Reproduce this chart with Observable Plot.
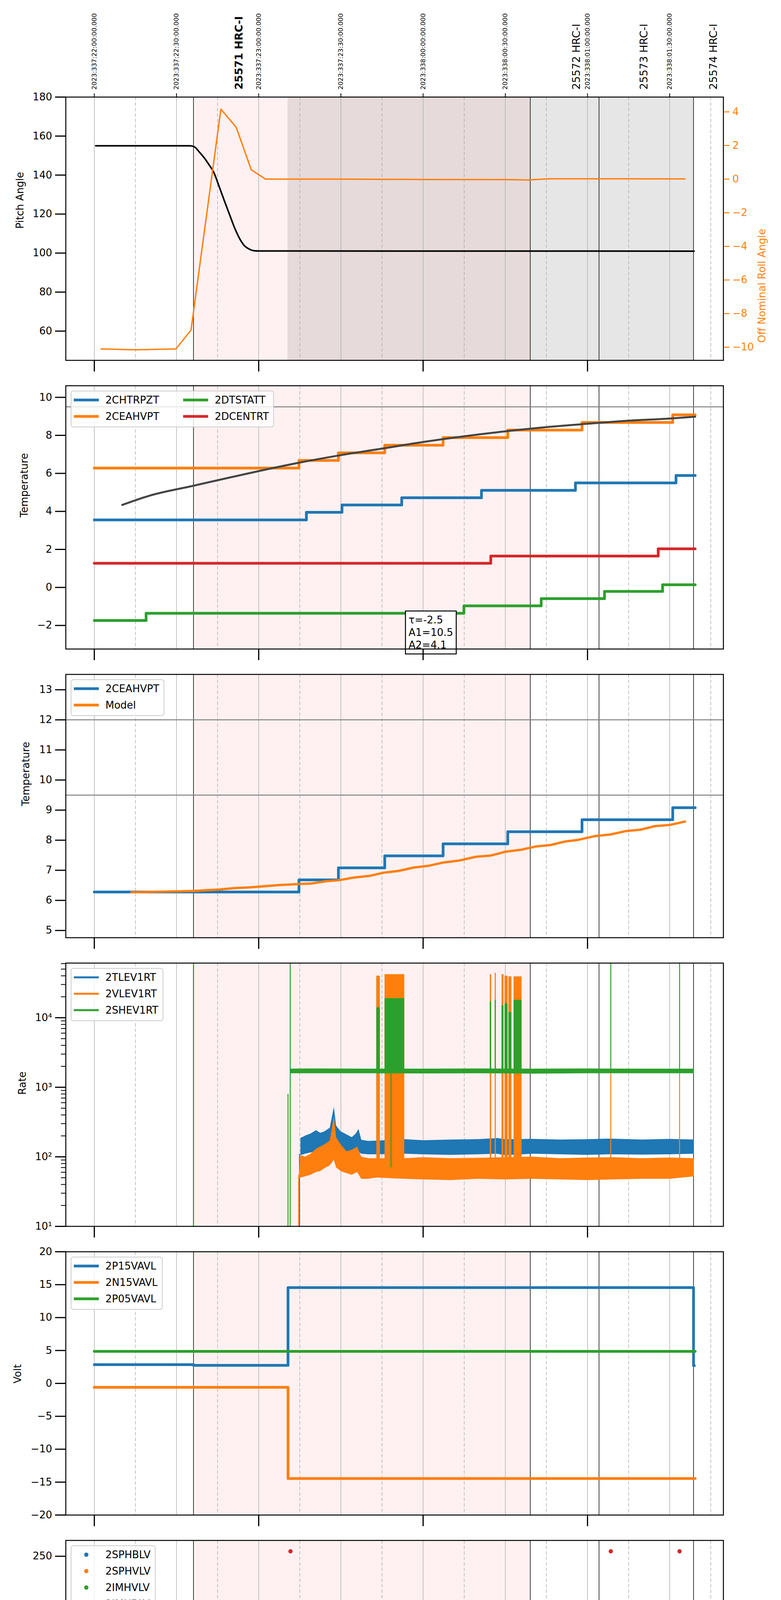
<!DOCTYPE html>
<html>
<head>
<meta charset="utf-8">
<script src="https://cdn.jsdelivr.net/npm/d3@7"></script>
<script src="https://cdn.jsdelivr.net/npm/@observablehq/plot@0.6"></script>
<style>
  body { margin: 0; background: white; }
  #chart { position: relative; width: 2000px; font-family: "DejaVu Sans"; }
  .panel { position: relative; width: 2000px; }
  .panel svg { display: block; }
  .overlay { position: absolute; left: 0; top: 0; }
</style>
</head>
<body>
<div id="chart"></div>
<script>
// ---------------- time axis (minutes after 17:00 local, 2023-12-03) ----------------
const X_DOMAIN = [-10.4, 229.6];
const hourTicks = [0, 60, 120, 180];
const hourLabels = ["17h", "18h", "19h", "20h"];
const minorTicks = [15, 30, 45, 75, 90, 105, 135, 150, 165, 195, 210, 225];
const minorLabels = ["15", "30", "45", "15", "30", "45", "15", "30", "45", "15", "30", "45"];
const solidGrid = [0, 30, 60, 90, 120, 150, 180, 210];
const dashedGrid = [15, 45, 75, 105, 135, 165, 195, 225];
const topTickTimes = [0, 30, 60, 90, 120, 150, 180, 210];
const topTickLabels = ["2023:337:22:00:00.000", "2023:337:22:30:00.000", "2023:337:23:00:00.000", "2023:337:23:30:00.000",
  "2023:338:00:00:00.000", "2023:338:00:30:00.000", "2023:338:01:00:00.000", "2023:338:01:30:00.000"];
const obsidStarts = [36.2, 159.1, 184.2, 218.7];
const obsidNames = ["25571 HRC-I", "25572 HRC-I", "25573 HRC-I", "25574 HRC-I"];
const obsidLabelTimes = [52.9, 176.0, 200.7, 226.0];
const obsSpan = [36.2, 159.1];
const hvOnSpan = [70.6, 218.7];
const xLabel = "2023-12-03 (337)";

// ---------------- panel 1: pitch / roll ----------------
const pitch = [[0.5,155],[35,155],[36.5,154.5],[38.4,151.7],[40.2,148.7],[42.0,145.0],[43.5,141.7],[45.6,134.0],[47.5,126.7],
  [49.3,120.0],[51.1,113.3],[52.9,107.8],[54.7,103.9],[56.5,102.1],[58.4,101.2],[60.0,101.1],[218.9,101.0]];
const roll = [[2.5,-10.1],[14.9,-10.15],[29.8,-10.1],[35.3,-8.98],[46.2,4.16],[51.8,3.08],[57.3,0.55],[62.5,0.0],[90,0.0],
  [120,-0.02],[150,-0.03],[158.4,-0.05],[165.6,0.02],[194.7,0.02],[215.6,0.01]];

// ---------------- panel 2: temperatures ----------------
const t2CHTRPZT = [[0,3.55],[77.4,3.95],[90.4,4.34],[112.2,4.72],[141.3,5.11],[175.6,5.50],[212.3,5.89],[219.3,5.89]];
const t2CEAHVPT = [[0,6.28],[74.7,6.68],[89.1,7.08],[106.0,7.48],[127.3,7.88],[150.9,8.28],[178.0,8.68],[211.1,9.08],[219.3,9.08]];
const t2DTSTATT = [[0,-1.74],[18.9,-1.36],[134.9,-0.97],[163.1,-0.59],[186.2,-0.21],[207.4,0.14],[219.3,0.14]];
const t2DCENTRT = [[0,1.27],[144.7,1.65],[205.8,2.03],[219.3,2.03]];
const fitCurve = [[10.2,4.34],[20.2,4.83],[36.2,5.35],[47.5,5.72],[60,6.12],[74.7,6.56],[90,6.96],[104.9,7.30],[120,7.65],
  [134.9,7.95],[150,8.21],[164.9,8.43],[180,8.61],[194.7,8.77],[209.4,8.88],[219.3,8.98]];
const tempLimit2 = [9.5];
const annoPos = [114.7, -1.43];
const annoLines = ["τ=-2.5", "A1=10.5", "A2=4.1"];

// ---------------- panel 3: model ----------------
const modelCurve = [[13.5,6.27],[36.2,6.31],[41.1,6.34],[45.6,6.36],[51.1,6.41],[56.5,6.43],[62.0,6.47],[67.5,6.51],[73.8,6.54],
  [79.3,6.56],[84.7,6.64],[89.3,6.67],[94.7,6.76],[100.2,6.81],[105.6,6.92],[111.1,6.98],[116.5,7.09],[122.0,7.15],[127.5,7.26],
  [132.9,7.32],[139.3,7.45],[144.7,7.49],[150.2,7.62],[155.6,7.68],[161.1,7.79],[166.5,7.84],[172.0,7.96],[176.5,8.01],[182.9,8.14],
  [188.4,8.19],[193.8,8.30],[199.3,8.35],[204.7,8.47],[210.2,8.51],[215.6,8.62]];
const tempLimits3 = [9.5, 12];

// ---------------- panel 4: rates (time, low, high envelopes) ----------------
const rateTLEVband = [[75.3,105,185],[77,110,200],[79,115,215],[81,118,240],[82.5,125,220],[84,120,230],[86,125,260],[87.5,140,520],
  [88.3,130,280],[90,120,230],[92,118,210],[94,115,190],[95.5,115,215],[96.5,118,250],[97.5,110,175],[100,108,168],[103,108,170],
  [113.3,110,178],[120,108,172],[130,106,176],[140,108,178],[147,110,185],[150,105,178],[160,110,180],[170,108,176],[180,106,178],
  [188,108,182],[200,107,176],[210,108,180],[218.9,110,176]];
const rateVLEVband = [[74.8,48,60],[75.3,50,105],[77,52,100],[79,55,110],[81,60,130],[82.5,62,140],[84,68,150],[86,75,170],
  [87.5,90,380],[88.3,70,190],[90,62,150],[92,58,120],[94,55,125],[96,60,140],[97.5,48,100],[100,48,95],[103,50,95],[113.3,48,95],
  [120,47,98],[130,46,95],[140,48,96],[150,47,98],[160,48,100],[170,47,95],[180,46,97],[190,47,98],[200,48,95],[210,48,97],[218.9,52,95]];
const rateSHEVband = [[71.5,1580,1840],[80,1580,1850],[100,1580,1840],[120,1570,1840],[140,1580,1850],[160,1560,1840],
  [180,1580,1850],[200,1580,1840],[218.9,1580,1840]];
const rateTLEVspikes = [[74.9,1,110],[188.5,75,110],[213.6,85,110]];
const rateTLEVblocks = [[103.0,103.5,160,38000],[149.8,150.3,165,38000],[151.6,152.1,165,38000],[155.4,155.9,165,38000]];
const rateVLEVspikes = [[74.6,1,55],[188.5,60,1700],[213.6,60,1700]];
const rateVLEVblocks = [[103.0,104.3,90,40000],[106.0,113.2,70,42000],[144.4,144.9,90,42000],[146.2,146.6,90,44000],
  [148.7,149.4,90,42000],[149.8,150.9,90,40000],[151.2,152.3,90,39000],[153.1,156.0,90,39000]];
const rateSHEVspikes = [[36.2,1,100000],[70.7,1,800],[71.5,1,100000],[108.3,70,1700],[188.5,1700,100000],[213.6,1700,100000]];
const rateSHEVblocks = [[103.0,104.3,1700,14000],[106.0,113.2,1700,19000],[144.4,144.9,1700,17000],[146.2,146.6,1700,18000],
  [148.7,149.4,1700,15000],[149.8,150.9,1700,16000],[151.2,152.3,1700,12000],[153.1,156.0,1700,18000]];
const rateMajor = [10, 100, 1000, 10000];
const rateMajorLabels = ["10¹", "10²", "10³", "10⁴"];
const rateMinor = [20,30,40,50,60,70,80,90,200,300,400,500,600,700,800,900,2000,3000,4000,5000,6000,7000,8000,9000,20000,30000,40000,50000,60000];

// ---------------- panel 5: voltages ----------------
const v2P15VAVL = [[0,2.85],[36.2,2.75],[70.7,14.55],[218.7,2.7],[219.0,2.7]];
const v2N15VAVL = [[0,-0.6],[70.7,-14.45],[219.3,-14.45]];
const v2P05VAVL = [[0,4.86],[219.3,4.86]];

// ---------------- panel 6: HV monitor (scatter) ----------------
const hv2SPHBLV = [];
const hv2SPHVLV = [];
const hv2IMHVLVpts = [[72.2,99.7],[72.5,97],[72.9,95],[73.3,92],[73.6,89.3],[74.0,87],[74.4,85.9],[74.9,82.6],[75.3,80.5],[75.6,78.8],
  [107.6,126.7],[149.3,126.7],[155.3,126.7]];
const hv2IMHVLVlevel = [[75.6,219.3,78.8]];
const hv2IMHBLVpts = [[71.6,255],[72.0,126.7],[72.0,123.5],[72.0,118.7],[72.3,106.4],[72.4,104.5],[73.0,101.6],[73.6,98],[74.0,96.9],
  [74.3,93.1],[74.6,91],[75.1,89.3],[75.6,85.9],[107.8,79],[108.7,79],[149.3,79],[155.3,79],[188.5,255],[213.6,255]];
const hv2IMHBLVlevel = [[75.6,219.3,85.9]];

// ---------------- panel 7: detector temperatures ----------------
const d2SPINATM = [[71.5,3.70],[131.5,4.15],[208.0,4.61],[219.3,4.61]];
const d2SPINATMblocks = [[102.9,103.8,-1,3.7],[105.9,113.3,-1,3.7],[144.4,145.2,-1,4.15],[146.0,146.6,-1,4.15],[148.9,151.1,-1,4.15],[153.4,156.0,-1,4.15]];
const d2SPHVATM = [[70.7,15.0],[70.9,15.57],[134.4,16.11],[158.4,16.39],[182.5,16.69],[209.6,16.97],[219.3,16.97]];
const d2SPHVATMblocks = [[102.9,103.8,10.54,15.57],[105.9,113.3,10.54,15.57],[144.4,145.2,11.07,16.11],[146.0,146.6,11.07,16.11],
  [148.9,149.6,11.07,16.11],[150.0,150.6,11.07,16.11],[153.4,156.0,11.07,16.11]];
const d2SPHVATMspikes = [[108.4,3.7,10.54]];
const d2IMINATM = [[71.5,1.93],[113.3,2.38],[175.1,2.80],[219.3,2.80]];
const d2IMINATMblocks = [[102.9,103.8,1.93,3.79],[105.9,113.3,1.93,3.79],[144.4,145.2,2.38,4.2],[146.0,146.6,2.38,4.2],[148.9,151.1,2.38,4.2],[153.4,156.0,2.38,4.2]];
const d2IMHVATM = [[71.0,-1],[71.1,14.97],[81.5,15.26],[88.4,15.57],[95.1,15.84],[102.4,16.11],[110.5,16.39],[119.8,16.66],[130.5,16.97],
  [143.4,17.25],[157.8,17.54],[174.7,17.82],[188.3,-1],[188.8,17.82],[195.3,18.12],[213.4,-1],[213.9,18.12],[219.3,18.12]];
const d2IMHVATMblocks = [[102.6,103.2,15.5,16.11],[105.6,110.3,15.5,16.11],[144.4,145.2,16.11,17.25],[146.0,146.6,16.11,17.25],
  [148.9,149.6,16.11,17.25],[150.4,151.0,16.11,17.25],[154.5,156.0,16.11,17.25]];
const d2IMHVATMspikes = [[108.4,-1,16.11]];

// ---------------- panel 8: FEA temperatures ----------------
const f2FHTRMZT = [[0,-3.28],[73.8,-3.68],[76.3,-3.28],[89.1,-4.1],[89.6,-3.28],[90.7,-2.87],[97.2,-2.5],[97.6,-2.87],[99.6,-2.5],
  [100.0,-2.87],[101.6,-2.51],[113.3,-2.13],[122.0,-1.76],[132.9,-1.37],[142.2,1.3],[142.6,-1.0],[156.0,-0.63],[167.3,-0.23],
  [170.5,0.55],[171.0,-0.23],[180.2,0.13],[192.5,0.51],[206.2,0.89],[219.3,0.89]];
const f2FRADPYT = [[0,-4.81],[36.5,-4.41],[42.7,-4.81],[55.3,-5.2],[64.7,-5.6],[89.3,-5.2],[101.1,-4.81],[112.9,-4.44],[124.7,-4.05],
  [136.9,-3.66],[149.3,-3.28],[162.0,-2.89],[176.0,-2.52],[189.8,-2.13],[204.7,-1.76],[219.3,-1.76]];
const f2FEPRATM = [[72.6,-2.65],[72.9,-2.22],[75.8,-1.83],[78.7,-1.42],[82.4,-1.02],[87.1,-0.63],[94.4,-0.22],[102.4,0.24],[113.3,0.65],
  [121.3,1.06],[131.3,1.51],[143.6,1.96],[156.0,2.39],[169.6,2.81],[183.8,3.27],[199.3,3.73],[215.1,4.18],[219.3,4.18]];
const f2FEPRATMblocks = [[102.9,103.8,-4.68,0.24],[105.9,113.3,-4.68,0.24],[144.4,145.2,-4.68,1.96],[146.0,146.6,-4.68,1.96],
  [148.9,149.6,-4.68,1.96],[150.0,150.6,-4.68,1.96],[150.9,151.4,-4.68,1.96],[154.9,155.6,-4.68,1.96]];
const f2FE00ATM = [[70.9,-7],[71.1,-1.11],[80.2,-0.78],[87.3,-1.1],[87.6,-0.43],[94.2,-0.13],[100.9,0.17],[108.4,-7],[108.9,0.48],
  [114.7,0.82],[122.0,1.11],[130.2,1.44],[138.2,1.77],[147.4,2.05],[156.0,2.35],[161.0,3.55],[161.4,2.35],[165.6,2.66],[172.4,2.3],
  [172.8,2.66],[174.7,2.96],[185.1,3.27],[188.3,-7],[188.8,3.27],[194.7,3.54],[200.0,4.2],[200.4,3.54],[203.6,4.2],[204.0,3.54],
  [206.6,3.85],[213.4,-7],[213.9,3.85],[215.1,4.18],[215.6,4.14],[219.3,4.14]];
const f2FE00ATMblocks = [[102.9,103.5,0.17,6],[105.6,113.3,0.45,6],[144.4,145.0,1.77,6],[146.0,146.6,1.77,6],[148.3,151.5,2.0,6],[152.8,156.0,2.0,6]];

// ---------------- styling ----------------
const C = {blue: "#1f77b4", orange: "#ff7f0e", green: "#2ca02c", red: "#d62728"};
const FONT = "DejaVu Sans";
const minus = d => (d < 0 ? "\u2212" + Math.abs(d) : String(d));

const L = (data, stroke, w = 7, curve = "step-after") =>
  Plot.line(data, {x: d => d[0], y: d => d[1], stroke, strokeWidth: w, curve, clip: true});
const B = (data, fill) =>
  Plot.rect(data, {x1: d => d[0], x2: d => d[1], y1: d => d[2], y2: d => d[3], fill, clip: true});
const S = (data, stroke, w) =>
  Plot.ruleX(data, {x: d => d[0], y1: d => d[1], y2: d => d[2], stroke, strokeWidth: w, clip: true});

function background(gray) {
  const m = [Plot.rect([obsSpan], {x1: d => d[0], x2: d => d[1], fill: "#ff0000", fillOpacity: 0.055})];
  if (gray) m.push(Plot.rect([hvOnSpan], {x1: d => d[0], x2: d => d[1], fill: "#808080", fillOpacity: 0.2}));
  m.push(Plot.ruleX(solidGrid, {x: d => d, stroke: "#b0b0b0", strokeWidth: 1.5}));
  m.push(Plot.ruleX(dashedGrid, {x: d => d, stroke: "#b0b0b0", strokeWidth: 1.5, strokeDasharray: "9,5"}));
  m.push(Plot.ruleX(obsidStarts, {x: d => d, stroke: "black", strokeWidth: 1.5}));
  return m;
}

function panel(o) {
  const top = o.top ?? 10, height = o.height ?? 739, bottom = o.bottom ?? 55;
  const marks = [
    ...background(o.gray),
    ...o.marks,
    Plot.frame({stroke: "black", strokeWidth: 2.5}),
    Plot.axisY({ticks: o.yTicks, tickFormat: o.yFmt || minus, tickSize: 27, tickPadding: 8, strokeWidth: 3, label: null, fontSize: 26}),
    Plot.axisX({ticks: hourTicks, tickSize: 29, strokeWidth: 3, tickPadding: 7, fontSize: 27, label: null,
      tickFormat: o.last ? (d => hourLabels[hourTicks.indexOf(d)]) : (() => "")}),
    Plot.text([o.yLabel], {frameAnchor: "left", dx: o.labelDx, rotate: -90, text: d => d, fontSize: 26, fill: "black"})
  ];
  if (o.minorY) marks.push(Plot.axisY({ticks: o.minorY, tickFormat: () => "", tickSize: 12, strokeWidth: 2, label: null}));
  if (o.last) {
    marks.push(Plot.axisX({ticks: minorTicks, tickSize: 9, strokeWidth: 2, tickPadding: 1, fontSize: 16, label: null,
      tickFormat: d => minorLabels[minorTicks.indexOf(d)]}));
    marks.push(Plot.text([xLabel], {frameAnchor: "bottom", dy: 86, fontSize: 27, text: d => d}));
  }
  if (o.extra) marks.push(...o.extra);
  return Plot.plot({
    width: 2000, height, marginTop: top, marginBottom: bottom, marginLeft: 168, marginRight: 148,
    x: {type: "linear", domain: X_DOMAIN},
    y: o.y,
    style: {fontFamily: FONT, fontSize: "26px", background: "transparent", overflow: "visible", color: "black"},
    marks
  });
}

function addLegend(svg, items, {cols = 1, dots = false, lw = 7, frameTop = 10}) {
  const g = d3.select(svg).append("g").attr("font-family", FONT).attr("font-size", 26).attr("text-anchor", "start");
  const rows = Math.ceil(items.length / cols);
  const rect = g.append("rect").attr("x", 182).attr("y", frameTop + 14).attr("height", 42 * rows + 8)
    .attr("rx", 6).attr("fill", "white").attr("fill-opacity", 0.8).attr("stroke", "#cccccc").attr("stroke-width", 2);
  let maxRight = 0;
  items.forEach((it, i) => {
    const col = Math.floor(i / rows), row = i % rows;
    const cy = frameTop + 37 + 42 * row;
    const x0 = 189 + col * 280;
    if (dots) g.append("circle").attr("cx", x0 + 32).attr("cy", cy).attr("r", 5.5).attr("fill", it.color);
    else g.append("line").attr("x1", x0).attr("x2", x0 + 64).attr("y1", cy).attr("y2", cy)
      .attr("stroke", it.color).attr("stroke-width", lw);
    const t = g.append("text").attr("x", x0 + 81).attr("y", cy).attr("dy", "0.35em")
      .attr("text-anchor", "start").attr("fill", "black").text(it.label);
    maxRight = Math.max(maxRight, x0 + 81 + t.node().getComputedTextLength());
  });
  rect.attr("width", maxRight + 12 - 182);
}

const chart = document.getElementById("chart");
function mount(svg) {
  const div = document.createElement("div");
  div.className = "panel";
  div.appendChild(svg);
  chart.appendChild(div);
  return div;
}

// ---- Panel 1 ----
const p1 = panel({
  top: 248, height: 977, bottom: 55, gray: true,
  y: {domain: [45, 180]}, yTicks: [60, 80, 100, 120, 140, 160, 180],
  yLabel: "Pitch Angle", labelDx: -117,
  marks: [L(pitch, "black", 4, "monotone-x")],
  extra: [
    Plot.axisX({anchor: "top", ticks: topTickTimes, tickSize: 10, strokeWidth: 2, tickFormat: () => "", label: null}),
    Plot.text(topTickTimes, {x: d => d, frameAnchor: "top", dy: -19, rotate: -90, textAnchor: "start", lineAnchor: "middle",
      fontSize: 16.5, text: (d, i) => topTickLabels[i]}),
    Plot.text([0], {x: i => obsidLabelTimes[i], frameAnchor: "top", dy: -19, rotate: -90, textAnchor: "start",
      lineAnchor: "middle", fontSize: 27, fontWeight: "bold", text: i => obsidNames[i]}),
    Plot.text([1, 2, 3], {x: i => obsidLabelTimes[i], frameAnchor: "top", dy: -19, rotate: -90, textAnchor: "start",
      lineAnchor: "middle", fontSize: 27, text: i => obsidNames[i]})
  ]
});
const div1 = mount(p1);
const p1roll = Plot.plot({
  width: 2000, height: 977, marginTop: 248, marginBottom: 55, marginLeft: 168, marginRight: 148,
  x: {type: "linear", domain: X_DOMAIN, axis: null},
  y: {domain: [-10.78, 4.88]},
  style: {fontFamily: FONT, fontSize: "26px", background: "transparent", overflow: "visible"},
  marks: [
    Plot.line(roll, {x: d => d[0], y: d => d[1], stroke: C.orange, strokeWidth: 3.5, clip: true}),
    Plot.axisY({anchor: "right", ticks: [-10, -8, -6, -4, -2, 0, 2, 4], tickFormat: minus, tickSize: 15, tickPadding: 8,
      strokeWidth: 2.5, color: C.orange, label: null, fontSize: 26}),
    Plot.text(["Off Nominal Roll Angle"], {frameAnchor: "right", dx: 99, rotate: -90, text: d => d, fontSize: 26, fill: C.orange})
  ]
});
p1roll.classList.add("overlay");
div1.appendChild(p1roll);

// ---- Panel 2 ----
const p2 = panel({
  y: {domain: [-3.24, 10.61]}, yTicks: [-2, 0, 2, 4, 6, 8, 10],
  yLabel: "Temperature", labelDx: -106,
  marks: [
    Plot.ruleY(tempLimit2, {y: d => d, stroke: "#808080", strokeWidth: 2.5}),
    L(t2CHTRPZT, C.blue), L(t2CEAHVPT, C.orange), L(t2DTSTATT, C.green), L(t2DCENTRT, C.red),
    L(fitCurve, "#444444", 5, "monotone-x"),
    Plot.text([annoLines.join("\n")], {x: () => annoPos[0], y: () => annoPos[1], text: d => d, textAnchor: "start",
      lineAnchor: "top", lineHeight: 1.23, fontSize: 26, className: "anno"})
  ]
});
mount(p2);

// ---- Panel 3 ----
const p3 = panel({
  y: {domain: [4.76, 13.51]}, yTicks: [5, 6, 7, 8, 9, 10, 11, 12, 13],
  yLabel: "Temperature", labelDx: -102,
  marks: [
    Plot.ruleY(tempLimits3, {y: d => d, stroke: "#808080", strokeWidth: 2.5}),
    L(t2CEAHVPT, C.blue), L(modelCurve, C.orange, 6, "linear")
  ]
});
mount(p3);

// ---- Panel 4 ----
const band = (data, fill) => Plot.areaY(data, {x: d => d[0], y1: d => d[1], y2: d => d[2], fill, clip: true});
const p4 = panel({
  y: {type: "log", domain: [10, 61000]}, yTicks: rateMajor, yFmt: d => rateMajorLabels[rateMajor.indexOf(d)],
  minorY: rateMinor, yLabel: "Rate", labelDx: -111,
  marks: [
    band(rateTLEVband, C.blue), S(rateTLEVspikes, C.blue, 2.5), B(rateTLEVblocks, C.blue),
    band(rateVLEVband, C.orange), S(rateVLEVspikes, C.orange, 2.5), B(rateVLEVblocks, C.orange),
    band(rateSHEVband, C.green), S(rateSHEVspikes, C.green, 2.5), B(rateSHEVblocks, C.green)
  ]
});
mount(p4);

// ---- Panel 5 ----
const p5 = panel({
  y: {domain: [-20, 20]}, yTicks: [-20, -15, -10, -5, 0, 5, 10, 15, 20],
  yLabel: "Volt", labelDx: -123,
  marks: [L(v2P15VAVL, C.blue), L(v2N15VAVL, C.orange), L(v2P05VAVL, C.green)]
});
mount(p5);

// ---- Panel 6 ----
const lvl = (data, stroke) => Plot.ruleY(data, {y: d => d[2], x1: d => d[0], x2: d => d[1], stroke, strokeWidth: 11, strokeLinecap: "round"});
const pts = (data, fill) => Plot.dot(data, {x: d => d[0], y: d => d[1], r: 5.5, fill, stroke: "none", clip: true});
const p6 = panel({
  y: {domain: [0, 266]}, yTicks: [0, 50, 100, 150, 200, 250],
  yLabel: "HV Monitor", labelDx: -120,
  marks: [
    pts(hv2SPHBLV, C.blue), pts(hv2SPHVLV, C.orange),
    lvl(hv2IMHVLVlevel, C.green), pts(hv2IMHVLVpts, C.green),
    lvl(hv2IMHBLVlevel, C.red), pts(hv2IMHBLVpts, C.red)
  ]
});
mount(p6);

// ---- Panel 7 ----
const p7 = panel({
  y: {domain: [0.42, 19.34]}, yTicks: [2.5, 5, 7.5, 10, 12.5, 15, 17.5], yFmt: d => d.toFixed(1),
  yLabel: "Detector Temp", labelDx: -126,
  marks: [
    L(d2SPINATM, C.blue), B(d2SPINATMblocks, C.blue),
    L(d2SPHVATM, C.orange), B(d2SPHVATMblocks, C.orange), S(d2SPHVATMspikes, C.orange, 3),
    L(d2IMINATM, C.green), B(d2IMINATMblocks, C.green),
    L(d2IMHVATM, C.red), B(d2IMHVATMblocks, C.red), S(d2IMHVATMspikes, C.red, 3)
  ]
});
mount(p7);

// ---- Panel 8 ----
const p8 = panel({
  height: 789, bottom: 105, last: true,
  y: {domain: [-6.31, 4.44]}, yTicks: [-6, -4, -2, 0, 2, 4],
  yLabel: "FEA Temp", labelDx: -107,
  marks: [
    L(f2FHTRMZT, C.blue), L(f2FRADPYT, C.orange),
    L(f2FEPRATM, C.green), B(f2FEPRATMblocks, C.green),
    L(f2FE00ATM, C.red), B(f2FE00ATMblocks, C.red)
  ]
});
mount(p8);

// ---- legends (after attach so text can be measured) ----
addLegend(p2, [{label: "2CHTRPZT", color: C.blue}, {label: "2CEAHVPT", color: C.orange},
  {label: "2DTSTATT", color: C.green}, {label: "2DCENTRT", color: C.red}], {cols: 2});
addLegend(p3, [{label: "2CEAHVPT", color: C.blue}, {label: "Model", color: C.orange}], {});
addLegend(p4, [{label: "2TLEV1RT", color: C.blue}, {label: "2VLEV1RT", color: C.orange}, {label: "2SHEV1RT", color: C.green}], {lw: 5});
addLegend(p5, [{label: "2P15VAVL", color: C.blue}, {label: "2N15VAVL", color: C.orange}, {label: "2P05VAVL", color: C.green}], {});
addLegend(p6, [{label: "2SPHBLV", color: C.blue}, {label: "2SPHVLV", color: C.orange}, {label: "2IMHVLV", color: C.green},
  {label: "2IMHBLV", color: C.red}], {dots: true});
addLegend(p7, [{label: "2SPINATM", color: C.blue}, {label: "2SPHVATM", color: C.orange}, {label: "2IMINATM", color: C.green},
  {label: "2IMHVATM", color: C.red}], {});
addLegend(p8, [{label: "2FHTRMZT", color: C.blue}, {label: "2FRADPYT", color: C.orange}, {label: "2FEPRATM", color: C.green},
  {label: "2FE00ATM", color: C.red}], {});

// ---- annotation box ----
document.querySelectorAll(".anno text").forEach(node => {
  const b = node.getBBox();
  const pad = 8;
  d3.select(node.parentNode).insert("rect", () => node)
    .attr("x", b.x - pad).attr("y", b.y - pad).attr("width", b.width + 2 * pad).attr("height", b.height + 2 * pad)
    .attr("fill", "white").attr("stroke", "black").attr("stroke-width", 2.5)
    .attr("transform", node.getAttribute("transform"));
});
</script>
</body>
</html>
